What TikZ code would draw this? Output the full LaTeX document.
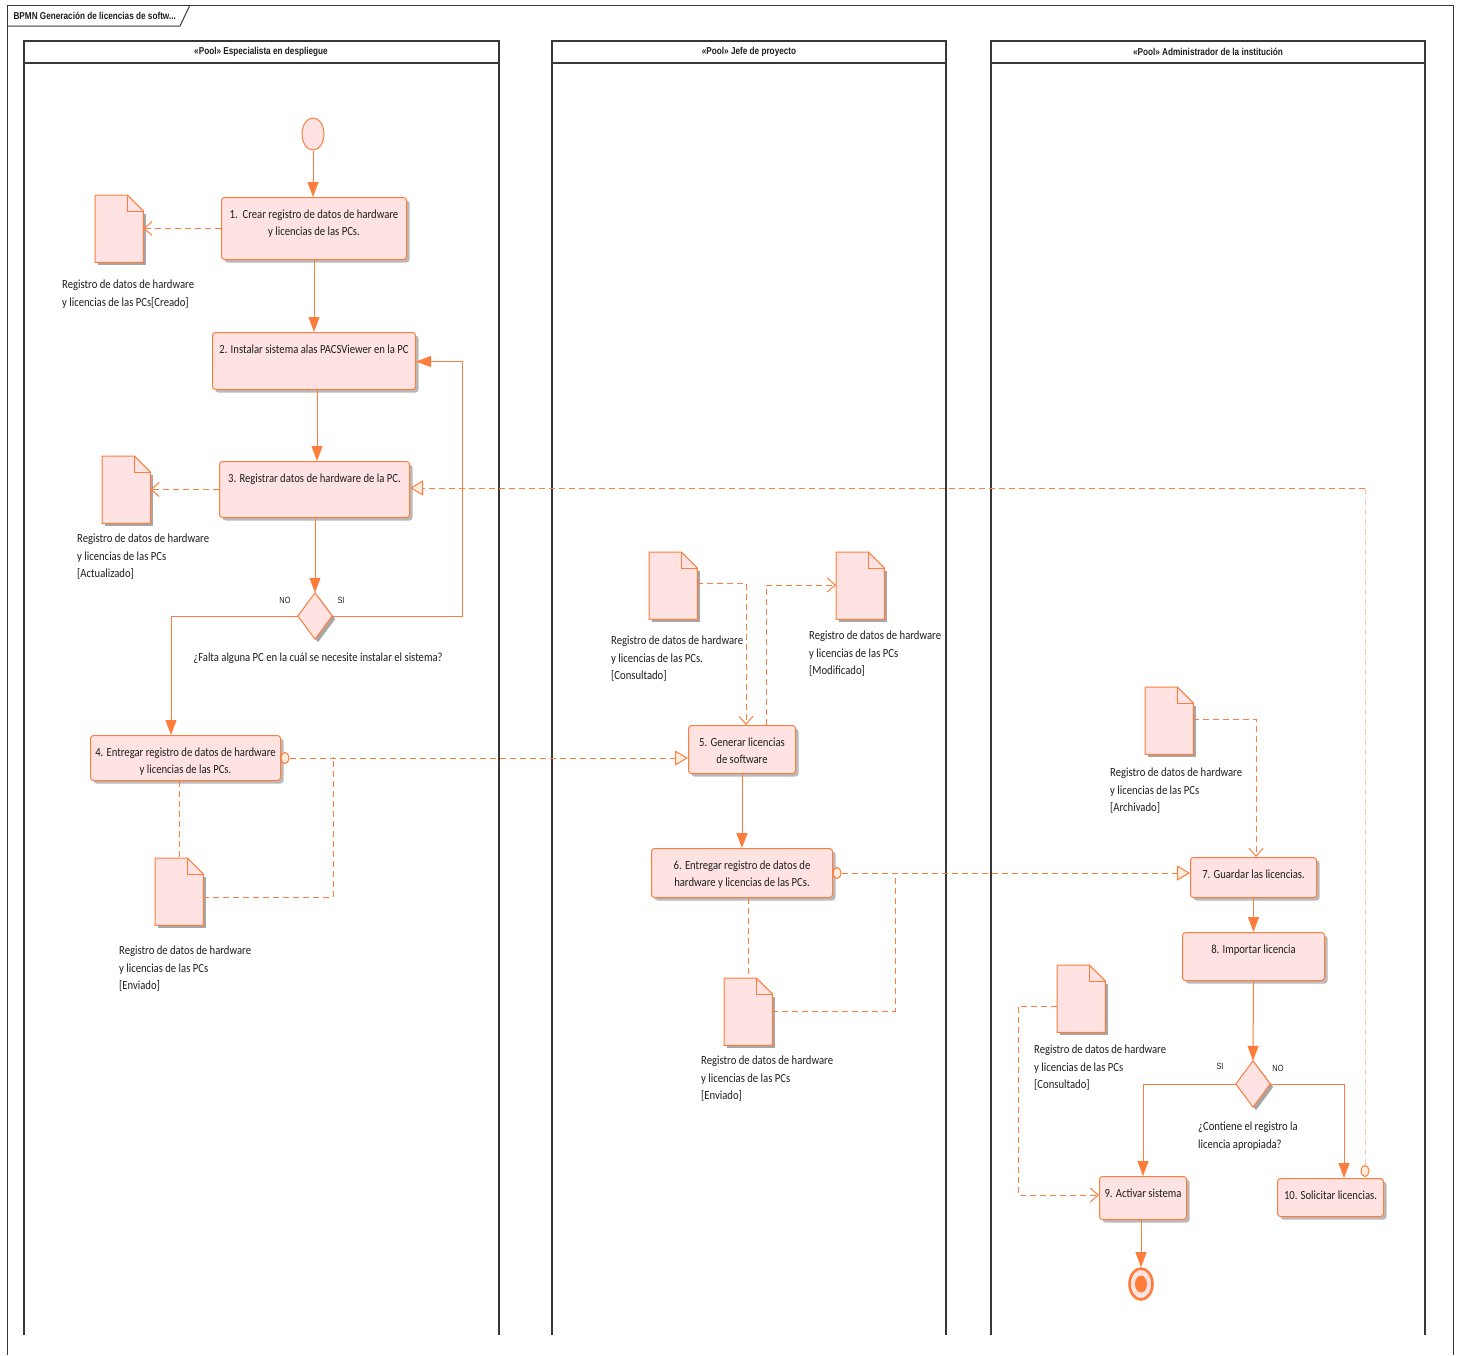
\documentclass[tikz,border=0pt]{standalone}
\usepackage{fontspec}
\setmainfont[FakeStretch=0.86]{Carlito}
\newfontfamily\hdrfont[FakeStretch=0.82]{Liberation Sans}
\usetikzlibrary{arrows.meta,shadows,shapes.geometric}

\definecolor{bpor}{RGB}{255,125,60}
\definecolor{bpfill}{RGB}{255,226,226}
\definecolor{bpcream}{RGB}{255,238,222}
\definecolor{bplight}{RGB}{255,196,168}
\definecolor{poolline}{RGB}{55,55,55}
\definecolor{txt}{RGB}{30,30,30}

\tikzset{
  poolln/.style={draw=poolline, line width=1.2pt},
  pooltitle/.style={font=\hdrfont\bfseries\fontsize{10}{12}\selectfont, text=txt},
  task/.style={draw=bpor, fill=bpfill, line width=1pt, rounded corners=3pt,
    drop shadow={shadow xshift=3pt, shadow yshift=-3pt, fill=black!45, opacity=0.6}},
  tasktext/.style={font=\fontsize{12.4}{16.5}\selectfont, text=txt, align=center, inner sep=0pt},
  lbl/.style={font=\fontsize{12.4}{17.2}\selectfont, text=txt, align=left, inner sep=0pt, anchor=north west},
  gwlbl/.style={font=\hdrfont\fontsize{9}{10}\selectfont, text=txt, inner sep=0pt},
  docbox/.style={draw=none, minimum width=48pt, minimum height=67pt, inner sep=0pt},
  docline/.style={draw=bpor, fill=bpfill, line width=1pt},
  gwbox/.style={draw=none, minimum width=34pt, minimum height=46pt, inner sep=0pt},
  flow/.style={draw=bpor, line width=1pt, -{Triangle[length=15pt,width=11pt]}},
  assoc/.style={draw=bpor, line width=1pt, dash pattern=on 6pt off 4pt,
    -{Straight Barb[length=8pt,width=14pt]}},
  assocline/.style={draw=bpor, line width=1pt, dash pattern=on 6pt off 4pt},
  msg/.style={draw=bpor, line width=1pt, dash pattern=on 6pt off 4pt,
    -{Triangle[open, fill=bpcream, length=13pt, width=15pt]}},
  msgdot/.style={ellipse, draw=bpor, fill=bpcream, line width=1pt, minimum width=8pt, minimum height=11pt, inner sep=0pt},
}

% document (data object) with folded corner
\newcommand\docsheet[3]{%
  \node[docbox, anchor=north west] (#1) at (#2,#3) {};
  \fill[black!35] ([shift={(3pt,-3pt)}]#1.south west) rectangle ([shift={(3pt,-19pt)}]#1.north east);
  \draw[docline] (#1.north west) -- ([xshift=-16pt]#1.north east) -- ([yshift=-16pt]#1.north east)
     -- (#1.south east) -- (#1.south west) -- cycle;
  \draw[docline, fill=none] ([xshift=-16pt]#1.north east) |- ([yshift=-16pt]#1.north east);
}
% gateway diamond
\newcommand\gateway[3]{%
  \node[gwbox] (#1) at (#2,#3) {};
  \fill[black!35] ([shift={(3pt,-3pt)}]#1.north) -- ([shift={(3pt,-3pt)}]#1.east) -- ([shift={(3pt,-3pt)}]#1.south) -- ([shift={(3pt,-3pt)}]#1.west) -- cycle;
  \draw[docline] (#1.north) -- (#1.east) -- (#1.south) -- (#1.west) -- cycle;
}
% task box with its text near the top
\newcommand\taskbox[6]{%
  \node[task, anchor=north west, minimum width=#4pt, minimum height=#5pt] (#1) at (#2,#3) {};
  \node[tasktext, anchor=north] (#1txt) at ([yshift=-13pt]#1.north) {#6};
}

\begin{document}
\begin{tikzpicture}[x=1pt, y=-1pt]
\useasboundingbox (0,0) rectangle (1463,1355);
\fill[white] (0,0) rectangle (1463,1355);

% outer frame and title tab
\draw[poolln, line width=1pt] (7,1355) -- (7,5) -- (1453,5) -- (1453,1355);
\draw[poolln, line width=1pt] (7,26) -- (180,26) -- (190,5);
\node[pooltitle, anchor=west] (title) at (10,16) {BPMN Generación de licencias de softw...};

% pools
\draw[poolln] (24,1335) -- (24,41) -- (499,41) -- (499,1335);
\draw[poolln] (24,63) -- (499,63);
\node[pooltitle] (p1) at (261,52) {«Pool» Especialista en despliegue};
\draw[poolln] (552,1335) -- (552,41) -- (946,41) -- (946,1335);
\draw[poolln] (552,63) -- (946,63);
\node[pooltitle] (p2) at (749,52) {«Pool» Jefe de proyecto};
\draw[poolln] (991,1335) -- (991,41) -- (1425,41) -- (1425,1335);
\draw[poolln] (991,63) -- (1425,63);
\node[pooltitle] (p3) at (1208,52) {«Pool» Administrador de la institución};

% events
\node[ellipse, draw=bpor, fill=bpfill, line width=1pt, minimum width=22pt, minimum height=32pt, inner sep=0pt] (se) at (313,134) {};
\node[ellipse, draw=bpor, fill=bpfill, line width=2.6pt, minimum width=23pt, minimum height=31pt, inner sep=0pt] (ee) at (1141,1284) {};
\node[ellipse, fill=bpor, minimum width=12pt, minimum height=17pt, inner sep=0pt] (eec) at (1141,1284) {};

% tasks
\taskbox{t1}{221}{197}{185}{62}{1.~~Crear registro de datos de hardware\\y licencias de las PCs.}
\taskbox{t2}{212}{332}{203}{57}{2. Instalar sistema alas PACSViewer en la PC}
\taskbox{t3}{219}{461}{190}{56}{3. Registrar datos de hardware de la PC.}
\taskbox{t4}{90}{735}{190}{45}{4. Entregar registro de datos de hardware\\y licencias de las PCs.}
\taskbox{t5}{688}{725}{107}{48}{5. Generar licencias\\de software}
\taskbox{t6}{651}{848}{181}{49}{6. Entregar registro de datos de\\hardware y licencias de las PCs.}
\taskbox{t7}{1190}{857}{126}{40}{7. Guardar las licencias.}
\taskbox{t8}{1182}{932}{142}{48}{8. Importar licencia}
\taskbox{t9}{1099}{1176}{87}{43}{9. Activar sistema}
\taskbox{t10}{1277}{1178}{106}{38}{10. Solicitar licencias.}

% data objects
\docsheet{d1}{95}{195}
\docsheet{d2}{102}{456}
\docsheet{d3}{155}{858}
\docsheet{d4}{649}{552}
\docsheet{d5}{836}{552}
\docsheet{d6}{724}{978}
\docsheet{d7}{1145}{687}
\docsheet{d8}{1057}{965}

\node[lbl] (l1) at (62,280) {Registro de datos de hardware\\y licencias de las PCs[Creado]};
\node[lbl] (l2) at (77,534) {Registro de datos de hardware\\y licencias de las PCs\\{[Actualizado]}};
\node[lbl] (l3) at (119,946) {Registro de datos de hardware\\y licencias de las PCs\\{[Enviado]}};
\node[lbl] (l4) at (611,636) {Registro de datos de hardware\\y licencias de las PCs.\\{[Consultado]}};
\node[lbl] (l5) at (809,631) {Registro de datos de hardware\\y licencias de las PCs\\{[Modificado]}};
\node[lbl] (l6) at (701,1056) {Registro de datos de hardware\\y licencias de las PCs\\{[Enviado]}};
\node[lbl] (l7) at (1110,768) {Registro de datos de hardware\\y licencias de las PCs\\{[Archivado]}};
\node[lbl] (l8) at (1034,1045) {Registro de datos de hardware\\y licencias de las PCs\\{[Consultado]}};

% gateways
\gateway{g1}{315}{616}
\node[gwlbl] (g1no) at (285,600) {NO};
\node[gwlbl] (g1si) at (341,600) {SI};
\node[lbl, anchor=north] (g1q) at (318,653) {¿Falta alguna PC en la cuál se necesite instalar el sistema?};
\gateway{g2}{1253}{1084}
\node[gwlbl] (g2si) at (1220,1066) {SI};
\node[gwlbl] (g2no) at (1278,1068) {NO};
\node[lbl] (g2q) at (1198,1122) {¿Contiene el registro la\\licencia apropiada?};

% message start markers
\node[msgdot] (m4) at ([xshift=4pt]t4.east) {};
\node[msgdot] (m6) at ([xshift=4pt]t6.east) {};
\node[msgdot] (m10) at (1365,1171) {};

% helper points for bends
\coordinate (loopR) at (462,616);
\coordinate (noL) at (171,616);
\coordinate (j4) at (333,757);
\coordinate (j6) at (895,873);
\coordinate (c4) at (746,583);
\coordinate (c5) at (766,585);
\coordinate (c7) at (1256,719);
\coordinate (c8) at (1018,1006);
\coordinate (c10) at (1365,488);
\coordinate (g2r) at (1344,1084);

% sequence flows
\draw[flow] (se.south) -- (se.south |- t1.north);
\draw[flow] (t1.south) -- (t1.south |- t2.north);
\draw[flow] ([xshift=3pt]t2.south) -- ([xshift=3pt]t2.south |- t3.north);
\draw[flow] (t3.south -| g1.north) -- (g1.north);
\draw[flow] (g1.east) -- (loopR) |- ([yshift=-0.5pt]t2.east);
\draw[flow] (g1.west) -- (noL) -- (noL |- t4.north);
\draw[flow] (t5.south) -- (t5.south |- t6.north);
\draw[flow] (t7.south) -- (t7.south |- t8.north);
\draw[flow] (t8.south) -- (g2.north);
\draw[flow] (g2.west) -| (t9.north);
\draw[flow] (g2.east) -- (g2r) -- (g2r |- t10.north);
\draw[flow] (t9.south -| ee.north) -- (ee.north);

% data associations
\draw[assoc] (t1.west) -- (t1.west -| d1.east);
\draw[assoc] (t3.west) -- (t3.west -| d2.east);
\draw[assocline] (t4.south -| d3.north) -- (d3.north);
\draw[assocline] ([yshift=-6pt]d3.east) -| (j4);
\draw[assoc] (d4.east |- c4) -- (c4) -- (c4 |- t5.north);
\draw[assoc] (c5 |- t5.north) -- (c5) -- (c5 -| d5.west);
\draw[assocline] (t6.south -| d6.north) -- (d6.north);
\draw[assocline] (d6.east) -| (j6);
\draw[assoc] (d7.east |- c7) -- (c7) -- (c7 |- t7.north);
\draw[assoc] (c8 -| d8.west) -- (c8) |- ([yshift=3pt]t9.west);

% message flows
\draw[msg] (m4.east) -- (m4.east -| t5.west);
\draw[msg] (m6.east) -- (m6.east -| t7.west);
\draw[assocline, draw=bplight] (m10.north) -- (c10);
\draw[msg] (c10) -- (c10 -| t3.east);
\end{tikzpicture}
\end{document}
